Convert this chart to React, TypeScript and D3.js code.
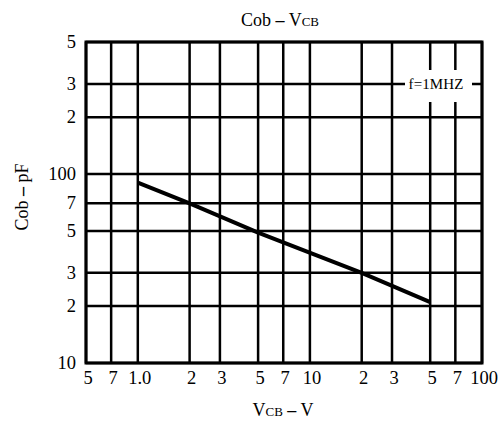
import { useEffect, useRef } from 'react';
import * as d3 from 'd3';

// Cob vs VCB, log-log
const xTicks = [0.5, 0.7, 1, 2, 3, 5, 7, 10, 20, 30, 50, 70, 100];
const xTickLabels = ['5', '7', '1.0', '2', '3', '5', '7', '10', '2', '3', '5', '7', '100'];
const yTicks = [10, 20, 30, 50, 70, 100, 200, 300, 500];
const yTickLabels = ['10', '2', '3', '5', '7', '100', '2', '3', '5'];

const vcb = [1, 2, 5, 20, 50];
const cob = [90, 70, 49, 30, 21];

export default function App() {
  const svgRef = useRef<SVGSVGElement>(null);

  useEffect(() => {
    if (!svgRef.current) return;
    const width = 500;
    const height = 424;
    const margin = { top: 42, right: 18, bottom: 61, left: 86 };

    d3.select(svgRef.current).selectAll('*').remove();

    const svg = d3.select(svgRef.current)
      .attr('width', width)
      .attr('height', height)
      .style('font-family', '"Liberation Serif", "DejaVu Serif", serif');

    const x = d3.scaleLog()
      .domain([0.5, 100])
      .range([margin.left, width - margin.right]);

    const y = d3.scaleLog()
      .domain([10, 500])
      .range([height - margin.bottom, margin.top]);

    // grid
    svg.append('g')
      .selectAll('line')
      .data(xTicks)
      .enter()
      .append('line')
      .attr('x1', d => x(d))
      .attr('x2', d => x(d))
      .attr('y1', y(10))
      .attr('y2', y(500))
      .attr('stroke', '#000')
      .attr('stroke-width', 2.5);

    svg.append('g')
      .selectAll('line')
      .data(yTicks)
      .enter()
      .append('line')
      .attr('x1', x(0.5))
      .attr('x2', x(100))
      .attr('y1', d => y(d))
      .attr('y2', d => y(d))
      .attr('stroke', '#000')
      .attr('stroke-width', 2.5);

    // frame
    svg.append('rect')
      .attr('x', x(0.5))
      .attr('y', y(500))
      .attr('width', x(100) - x(0.5))
      .attr('height', y(10) - y(500))
      .attr('fill', 'none')
      .attr('stroke', '#000')
      .attr('stroke-width', 3);

    // tick labels
    svg.append('g')
      .selectAll('text')
      .data(xTicks)
      .enter()
      .append('text')
      .attr('x', d => x(d) + 2)
      .attr('y', y(10) + 21)
      .attr('text-anchor', 'middle')
      .style('font-size', '18.5px')
      .text((d, i) => xTickLabels[i]);

    svg.append('g')
      .selectAll('text')
      .data(yTicks)
      .enter()
      .append('text')
      .attr('x', x(0.5) - 10)
      .attr('y', d => y(d) + 6)
      .attr('text-anchor', 'end')
      .style('font-size', '18.5px')
      .text((d, i) => yTickLabels[i]);

    // curve
    const pts = vcb.map((v, i) => [v, cob[i]] as [number, number]);
    svg.append('path')
      .datum(pts)
      .attr('d', d3.line<[number, number]>().x(d => x(d[0])).y(d => y(d[1])))
      .attr('fill', 'none')
      .attr('stroke', '#000')
      .attr('stroke-width', 4);

    // f=1MHZ note
    svg.append('rect')
      .attr('x', 405)
      .attr('y', 70)
      .attr('width', 67)
      .attr('height', 32)
      .attr('fill', '#fff');
    svg.append('text')
      .attr('x', 436)
      .attr('y', 89)
      .attr('text-anchor', 'middle')
      .style('font-size', '15px')
      .attr('textLength', 55)
      .text('f=1MHZ');

    // title
    const title = svg.append('text')
      .attr('x', 280)
      .attr('y', 26)
      .attr('text-anchor', 'middle')
      .style('font-size', '18px');
    title.append('tspan').text('Cob ');
    title.append('tspan').style('font-weight', 'bold').text('–');
    title.append('tspan').text(' V');
    title.append('tspan').style('font-size', '13px').text('CB');

    // x axis label
    const xl = svg.append('text')
      .attr('x', 283)
      .attr('y', 416)
      .attr('text-anchor', 'middle')
      .style('font-size', '18px');
    xl.append('tspan').text('V');
    xl.append('tspan').style('font-size', '13px').text('CB');
    xl.append('tspan').text(' ');
    xl.append('tspan').style('font-weight', 'bold').text('–');
    xl.append('tspan').text(' V');

    // y axis label
    const yl = svg.append('text')
      .attr('transform', 'translate(28,197) rotate(-90)')
      .attr('text-anchor', 'middle')
      .style('font-size', '18px');
    yl.append('tspan').text('Cob ');
    yl.append('tspan').style('font-weight', 'bold').text('–');
    yl.append('tspan').text(' pF');
  }, []);

  return (
    <div style={{ position: 'absolute', left: 0, top: 0 }}>
      <svg ref={svgRef} style={{ display: 'block' }}></svg>
    </div>
  );
}
